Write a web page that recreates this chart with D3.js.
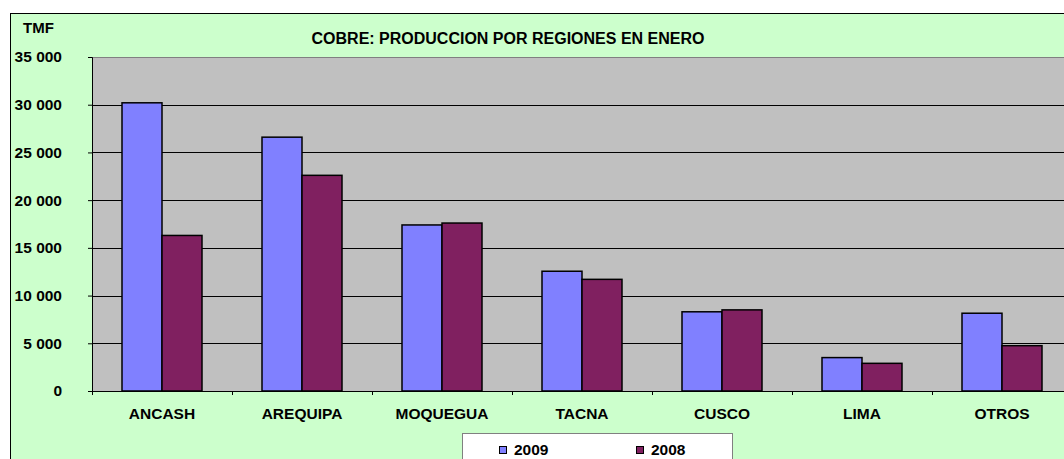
<!DOCTYPE html>
<html lang="en">
<head>
	<meta charset="UTF-8">
	<title>Cobre</title>
	<style type="text/css">
	body { margin: 0; background: #fff; }
	text { font-family: Arial, "Liberation Sans", sans-serif; font-weight: bold; }
	.axis .domain { stroke: #000; }
	</style>
</head>
<body>
</body>
<script src="https://cdn.jsdelivr.net/npm/d3@7/dist/d3.min.js"></script>
<script>
var regiones = ["ANCASH", "AREQUIPA", "MOQUEGUA", "TACNA", "CUSCO", "LIMA", "OTROS"]
var v2009 = [30200, 26600, 17400, 12550, 8300, 3500, 8150]
var v2008 = [16300, 22600, 17600, 11700, 8500, 2900, 4750]
var series = ["2009", "2008"]
var yTicks = [0, 5000, 10000, 15000, 20000, 25000, 30000, 35000]

var colors = {"2009": "#8080FF", "2008": "#802060"}

var W = 1064, H = 459
var plot = {left: 92, top: 57, bottom: 391, right: 1072}
var FONT = "Arial, 'Liberation Sans', sans-serif"

var svg = d3.select("body").append("svg")
    .attr("width", W)
    .attr("height", H)

// outer frame
svg.append("rect")
    .attr("x", 10.5).attr("y", 13.5)
    .attr("width", W + 20).attr("height", H + 20)
    .attr("fill", "#CCFFCC")
    .attr("stroke", "#000")

var x = d3.scaleBand()
    .domain(regiones)
    .range([plot.left, plot.right])

var x1 = d3.scaleBand()
    .domain(series)
    .range([30, x.bandwidth() - 30])

var y = d3.scaleLinear()
    .domain([0, 35000])
    .range([plot.bottom, plot.top])

// plot background
svg.append("rect")
    .attr("x", plot.left).attr("y", plot.top)
    .attr("width", plot.right - plot.left).attr("height", plot.bottom - plot.top)
    .attr("fill", "#C0C0C0")

svg.append("line")
    .attr("x1", plot.left).attr("x2", plot.right)
    .attr("y1", plot.top + 0.5).attr("y2", plot.top + 0.5)
    .attr("stroke", "#808080")

// gridlines
svg.append("g").selectAll("line")
    .data(yTicks.filter(function (d) { return d > 0 && d < 35000 }))
    .enter().append("line")
    .attr("x1", plot.left).attr("x2", plot.right)
    .attr("y1", function (d) { return Math.round(y(d)) + 0.5 })
    .attr("y2", function (d) { return Math.round(y(d)) + 0.5 })
    .attr("stroke", "#000")

// bars
var groups = svg.append("g").selectAll("g")
    .data(regiones)
    .enter().append("g")
    .attr("transform", function (d) { return "translate(" + x(d) + ",0)" })

groups.each(function (d, i) {
	var vals = {"2009": v2009[i], "2008": v2008[i]}
	d3.select(this).selectAll("rect")
		.data(series)
		.enter().append("rect")
		.attr("x", function (s) { return x1(s) })
		.attr("width", x1.bandwidth())
		.attr("y", function (s) { return y(vals[s]) })
		.attr("height", function (s) { return plot.bottom - y(vals[s]) })
		.attr("fill", function (s) { return colors[s] })
		.attr("stroke", "#000")
		.attr("stroke-width", 1.5)
})

// y axis
var yAxis = svg.append("g")
    .attr("class", "axis")
    .attr("transform", "translate(" + plot.left + ",0)")
    .call(d3.axisLeft(y).tickValues(yTicks).tickSize(4).tickPadding(26)
        .tickFormat(function (d) { return d3.format(",")(d).replace(",", " ") }))
yAxis.attr("font-size", null).attr("font-family", null)
yAxis.selectAll("text").attr("font-size", "15.5px").attr("fill", "#000")
    .attr("font-family", FONT).attr("font-weight", "bold")

// x axis
var xAxis = svg.append("g")
    .attr("class", "axis")
    .attr("transform", "translate(0," + plot.bottom + ")")
    .call(d3.axisBottom(x).tickSize(0).tickPadding(17))
xAxis.attr("font-size", null).attr("font-family", null)
xAxis.selectAll("text").attr("font-size", "15.5px").attr("fill", "#000")
    .attr("font-family", FONT).attr("font-weight", "bold")
xAxis.select(".domain").attr("stroke", "#000")

svg.append("g").selectAll("line")
    .data(regiones)
    .enter().append("line")
    .attr("x1", function (d) { return x(d) + 0.5 })
    .attr("x2", function (d) { return x(d) + 0.5 })
    .attr("y1", plot.bottom).attr("y2", plot.bottom + 4)
    .attr("stroke", "#000")

// titles
svg.append("text")
    .attr("x", 23).attr("y", 33)
    .attr("font-size", "15px")
    .text("TMF")

svg.append("text")
    .attr("x", 508).attr("y", 43.5)
    .attr("text-anchor", "middle")
    .attr("font-size", "16px")
    .text("COBRE: PRODUCCION POR REGIONES EN ENERO")

// legend
svg.append("rect")
    .attr("x", 462.5).attr("y", 433.5)
    .attr("width", 270).attr("height", 40)
    .attr("fill", "#fff")
    .attr("stroke", "#808080")

var legX = [499, 636]
series.forEach(function (s, i) {
	svg.append("rect")
	    .attr("x", legX[i] + 0.5).attr("y", 446.5)
	    .attr("width", 7).attr("height", 7)
	    .attr("fill", colors[s])
	    .attr("stroke", "#000")
	svg.append("text")
	    .attr("x", legX[i] + 15).attr("y", 455)
	    .attr("font-size", "15.5px")
	    .text(s)
})
</script>
</html>
